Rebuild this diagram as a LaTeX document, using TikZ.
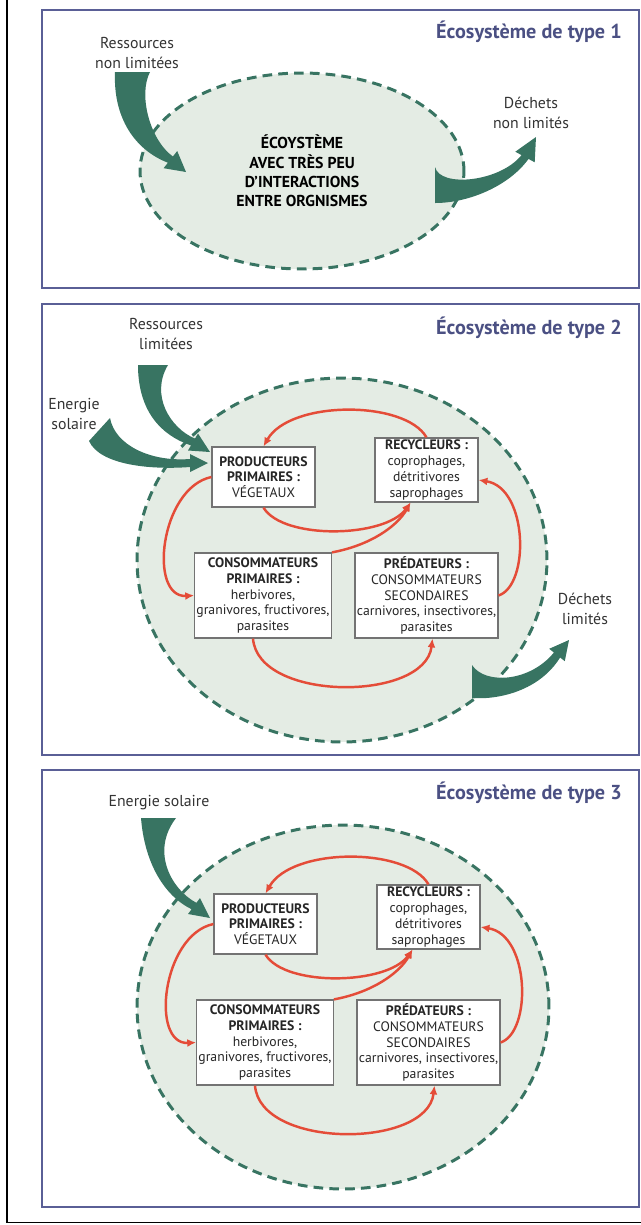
\documentclass[tikz,border=0pt]{standalone}
\usepackage{fontspec}
\setmainfont{PT Sans}
\usetikzlibrary{arrows.meta,shapes.geometric}
\definecolor{cadre}{RGB}{90,95,150}
\definecolor{titre}{RGB}{75,80,131}
\definecolor{vert}{RGB}{56,116,98}
\definecolor{fond}{RGB}{228,236,228}
\definecolor{rouge}{RGB}{228,76,56}
\definecolor{bord}{RGB}{115,115,115}

\tikzset{
  panneau/.style={draw=cadre,line width=1.6pt},
  titre/.style={anchor=east,text=titre,font=\fontsize{11.5}{13}\selectfont\bfseries},
  etiq/.style={align=center,text=black!80,font=\fontsize{9}{11}\selectfont},
  milieu/.style={ellipse,fill=fond,inner sep=0pt},
  tirets/.style={draw=vert,line width=1.7pt,dash pattern=on 5.5pt off 3.5pt},
  vague/.style={fill=vert},
  boite/.style={draw=bord,fill=white,line width=0.7pt,align=center,inner sep=1pt,text=black!85,font=\fontsize{7.8}{9}\selectfont},
  fleche/.style={draw=rouge,line width=1.4pt,-{Latex[length=5pt,width=4.5pt]}}
}

\begin{document}
\begin{tikzpicture}[x=0.02cm,y=-0.02cm]
\useasboundingbox (0,0) rectangle (641,1225);
\draw[line width=0.8pt] (7,0) -- (7,1222.5) -- (641,1222.5);

\draw[panneau] (42,10) rectangle (639,288);
\node[titre] (titre1) at (628,32) {Écosystème de type 1};
\node[milieu,minimum width=6.48cm,minimum height=3.92cm,align=center,font=\fontsize{9}{11}\selectfont\bfseries] (eco1) at (302,171) {ÉCOYSTÈME\\AVEC TRÈS PEU\\D'INTERACTIONS\\ENTRE ORGNISMES};
\node[etiq] (res1) at (137,53) {Ressources\\non limitées};
\node[etiq] (dec1) at (531,113) {Déchets\\non limités};
\fill[vague] (115,72) .. controls (113,118) and (135,150) .. (167.9,162.7) -- (163.6,168.2) -- (186,172) -- (177.2,151) -- (172.9,156.5) .. controls (150,140) and (138,95) .. (150,72) -- cycle;
\fill[vague] (435,167) .. controls (440,188) and (500,182) .. (521.5,155.1) -- (515.3,151.7) -- (536,137) -- (534.7,162.3) -- (528.5,158.9) .. controls (510,185) and (470,203) .. (435,203) -- cycle;
\draw[tirets] (eco1.center) ellipse [x radius=3.24cm,y radius=1.96cm];

\draw[panneau] (42,304) rectangle (639,755);
\node[titre] (titre2) at (628,328) {Écosystème de type 2};
\node[milieu,minimum width=8.2cm,minimum height=7.28cm] (eco2) at (342,560) {};
\node[etiq] (res2) at (166,334) {Ressources\\limitées};
\node[etiq] (ene2) at (74,414) {Energie\\solaire};
\node[etiq] (dec2) at (585,609) {Déchets\\limités};
\fill[vague] (138,365) .. controls (138,410) and (160,435) .. (191,445.4) -- (188,450.5) -- (210,452) -- (198,433.5) -- (195,438.6) .. controls (170,428) and (150,395) .. (168,365) -- cycle;
\fill[vague] (89,441) .. controls (100,465) and (150,470) .. (190,467) -- (190,472) -- (208,463) -- (190,454) -- (190,459) .. controls (150,462) and (115,445) .. (110,418) -- cycle;
\fill[vague] (472,665) .. controls (485,685) and (530,682) .. (553.9,652.5) -- (549.2,648.8) -- (569,640) -- (564.8,661.2) -- (560.1,657.5) .. controls (540,690) and (500,700) .. (472,698) -- cycle;
\draw[tirets] (eco2.center) ellipse [x radius=4.1cm,y radius=3.64cm];
\node[boite,minimum width=2.06cm,minimum height=1.2cm] (prod2) at (263.5,477) {\textbf{PRODUCTEURS}\\\textbf{PRIMAIRES :}\\VÉGETAUX};
\node[boite,minimum width=2.06cm,minimum height=1.28cm] (recy2) at (426.5,470) {\textbf{RECYCLEURS :}\\coprophages,\\détritivores\\saprophages};
\node[boite,minimum width=2.72cm,minimum height=1.7cm] (cons2) at (263,595.5) {\textbf{CONSOMMATEURS}\\\textbf{PRIMAIRES :}\\herbivores,\\granivores, fructivores,\\parasites};
\node[boite,minimum width=2.86cm,minimum height=1.7cm] (pred2) at (426.5,595.5) {\textbf{PRÉDATEURS :}\\CONSOMMATEURS\\SECONDAIRES\\carnivores, insectivores,\\parasites};
\draw[fleche] (recy2.north) .. controls (405,400) and (290,400) .. (prod2.north);
\draw[fleche] (prod2.west) .. controls (160,488) and (148,598) .. (cons2.west);
\draw[fleche] (prod2.south) .. controls (283,540) and (385,538) .. ([xshift=-0.32cm]recy2.south);
\draw[fleche] (cons2.north east) .. controls (372,545) and (398,525) .. ([xshift=-0.32cm]recy2.south);
\draw[fleche] ([xshift=-0.2cm]cons2.south) .. controls (258,702) and (425,702) .. ([xshift=0.12cm]pred2.south);
\draw[fleche] (pred2.east) .. controls (530,585) and (528,488) .. ([yshift=-0.2cm]recy2.east);

\draw[panneau] (42,770) rectangle (639,1207);
\node[titre] (titre3) at (628,793) {Écosystème de type 3};
\node[milieu,minimum width=8.24cm,minimum height=7.28cm] (eco3) at (343,1007) {};
\node[etiq] (ene3) at (159,803) {Energie solaire};
\fill[vague] (141,818) .. controls (145,868) and (168,898) .. (191.6,909.2) -- (188,914) -- (210,918) -- (200,898) -- (196.4,902.8) .. controls (172,890) and (150,852) .. (176,818) -- cycle;
\draw[tirets] (eco3.center) ellipse [x radius=4.12cm,y radius=3.64cm];
\begin{scope}[shift={(2,447)}]
\node[boite,minimum width=2.06cm,minimum height=1.2cm] (prod3) at (263.5,477) {\textbf{PRODUCTEURS}\\\textbf{PRIMAIRES :}\\VÉGETAUX};
\node[boite,minimum width=2.06cm,minimum height=1.28cm] (recy3) at (426.5,470) {\textbf{RECYCLEURS :}\\coprophages,\\détritivores\\saprophages};
\node[boite,minimum width=2.72cm,minimum height=1.7cm] (cons3) at (263,595.5) {\textbf{CONSOMMATEURS}\\\textbf{PRIMAIRES :}\\herbivores,\\granivores, fructivores,\\parasites};
\node[boite,minimum width=2.86cm,minimum height=1.7cm] (pred3) at (426.5,595.5) {\textbf{PRÉDATEURS :}\\CONSOMMATEURS\\SECONDAIRES\\carnivores, insectivores,\\parasites};
\draw[fleche] (recy3.north) .. controls (405,400) and (290,400) .. (prod3.north);
\draw[fleche] (prod3.west) .. controls (160,488) and (148,598) .. (cons3.west);
\draw[fleche] (prod3.south) .. controls (283,540) and (385,538) .. ([xshift=-0.32cm]recy3.south);
\draw[fleche] (cons3.north east) .. controls (372,545) and (398,525) .. ([xshift=-0.32cm]recy3.south);
\draw[fleche] ([xshift=-0.2cm]cons3.south) .. controls (258,702) and (425,702) .. ([xshift=0.12cm]pred3.south);
\draw[fleche] (pred3.east) .. controls (530,585) and (528,488) .. ([yshift=-0.2cm]recy3.east);
\end{scope}
\end{tikzpicture}
\end{document}
